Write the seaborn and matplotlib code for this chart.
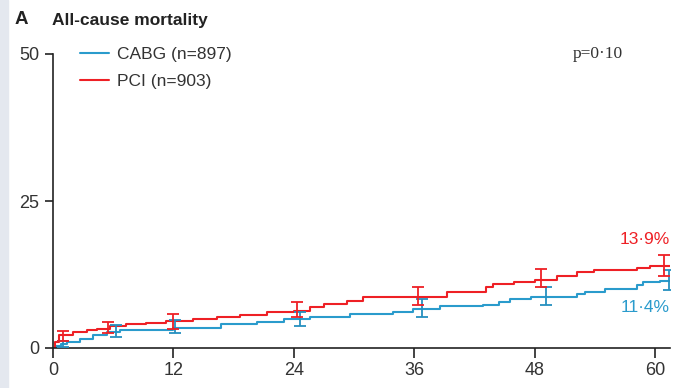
import pandas as pd
import matplotlib.pyplot as plt
import seaborn as sns
from matplotlib.patches import Rectangle

# Kaplan-Meier style cumulative all-cause mortality (%)
cabg_months = [0, 0.3, 0.8, 1.4, 2.7, 4.0, 5.4, 6.7, 12.0, 16.7, 20.3, 23.0, 25.6, 29.6,
               33.9, 35.9, 38.6, 42.9, 44.5, 45.6, 47.6, 52.2, 53.0, 55.0, 58.2, 58.8, 60.5, 61.5]
cabg_risk = [0, 0.4, 0.7, 1.1, 1.6, 2.2, 2.7, 3.1, 3.4, 4.1, 4.5, 5.0, 5.3, 5.7,
             6.2, 6.7, 7.1, 7.3, 7.9, 8.4, 8.7, 9.2, 9.6, 10.1, 10.7, 11.2, 11.4, 11.4]

pci_months = [0, 0.2, 0.6, 2.0, 3.4, 4.4, 5.7, 7.3, 9.3, 11.3, 14.0, 16.3, 18.6, 21.3, 24.0,
              25.6, 27.0, 29.3, 30.9, 39.3, 43.2, 43.9, 46.0, 48.0, 50.2, 52.2, 53.9, 58.2, 59.5, 61.5]
pci_risk = [0, 1.0, 2.2, 2.7, 3.1, 3.3, 3.7, 4.1, 4.3, 4.6, 4.9, 5.3, 5.6, 6.1, 6.3,
            6.9, 7.5, 8.0, 8.7, 9.5, 10.3, 10.8, 11.2, 11.5, 12.2, 12.9, 13.2, 13.6, 13.9, 13.9]

# 95% CI bars
pci_bar_x = [1.0, 5.5, 12.0, 24.3, 36.4, 48.6, 60.9]
pci_low = [1.2, 2.5, 3.3, 5.2, 7.3, 10.3, 12.2]
pci_high = [2.9, 4.5, 5.8, 7.8, 10.3, 13.4, 15.8]
cabg_bar_x = [1.0, 6.3, 12.2, 24.6, 36.8, 49.1, 61.4]
cabg_low = [0.2, 1.8, 2.5, 3.7, 5.3, 7.3, 9.9]
cabg_high = [1.2, 3.9, 4.8, 6.2, 8.3, 10.3, 13.3]

labels = ["CABG (n=897)", "PCI (n=903)"]
x_ticks = [0, 12, 24, 36, 48, 60]
y_ticks = [0, 25, 50]

BLUE = "#2a9bcc"
RED = "#ee2025"
W, H = 692, 388

sns.set_style("ticks")
plt.rcParams['font.family'] = ['Liberation Sans', 'DejaVu Sans']

df = pd.concat([
    pd.DataFrame({"month": cabg_months, "risk": cabg_risk, "group": labels[0]}),
    pd.DataFrame({"month": pci_months, "risk": pci_risk, "group": labels[1]}),
])

fig = plt.figure(figsize=(W / 100, H / 100), dpi=100)
fig.patches.append(Rectangle((0, 0), 8 / W, 1, transform=fig.transFigure,
                             color="#e4e8ef", zorder=0))
ax = fig.add_axes([53 / W, (H - 348) / H, 617 / W, 294 / H])

sns.lineplot(data=df, x="month", y="risk", hue="group", estimator=None,
             palette={labels[0]: BLUE, labels[1]: RED}, drawstyle="steps-post",
             linewidth=1.5, ax=ax)

for bx, lo, hi, c in [(cabg_bar_x, cabg_low, cabg_high, "#2590bf"),
                      (pci_bar_x, pci_low, pci_high, RED)]:
    mid = [(a + b) / 2 for a, b in zip(lo, hi)]
    err = [[m - a for m, a in zip(mid, lo)], [b - m for m, b in zip(mid, hi)]]
    ax.errorbar(bx, mid, yerr=err, fmt="none", ecolor=c, elinewidth=1.3,
                capsize=4.5, capthick=1.3, zorder=3)

ax.set_xlim(0, 61.5)
ax.set_ylim(0, 50)
ax.set_xticks(x_ticks)
ax.set_yticks(y_ticks)
ax.set_xlabel("")
ax.set_ylabel("")
for s in ["top", "right"]:
    ax.spines[s].set_visible(False)
for s in ["left", "bottom"]:
    ax.spines[s].set_linewidth(1.2)
    ax.spines[s].set_color("#222222")
ax.tick_params(axis="x", length=7, width=1.2, pad=3, labelsize=13, colors="#222222",
               labelcolor="#333333")
ax.tick_params(axis="y", length=6, width=1.2, pad=4, labelsize=13, colors="#222222",
               labelcolor="#333333")

ax.legend(loc="upper left", bbox_to_anchor=(71 / W, 1 - 38 / H),
          bbox_transform=fig.transFigure, frameon=False, fontsize=12.5,
          handlelength=1.7, handletextpad=0.45, labelspacing=0.68, borderpad=0,
          labelcolor="#333333")


def ftext(x, y, s, **kw):
    fig.text(x / W, 1 - y / H, s, va="center", **kw)


ftext(15, 20, "A", fontsize=13.5, fontweight="bold", color="#222222")
ftext(52, 20, "All-cause mortality", fontsize=12.5, fontweight="bold", color="#222222")
ftext(573, 54, "p=0·10", fontsize=12.5, color="#333333",
      family=["Liberation Serif", "DejaVu Serif"])
ftext(645, 239, "13·9%", fontsize=12.5, color=RED, ha="center")
ftext(645, 308, "11·4%", fontsize=12.5, color=BLUE, ha="center")

fig.savefig("out.png", dpi=100)
